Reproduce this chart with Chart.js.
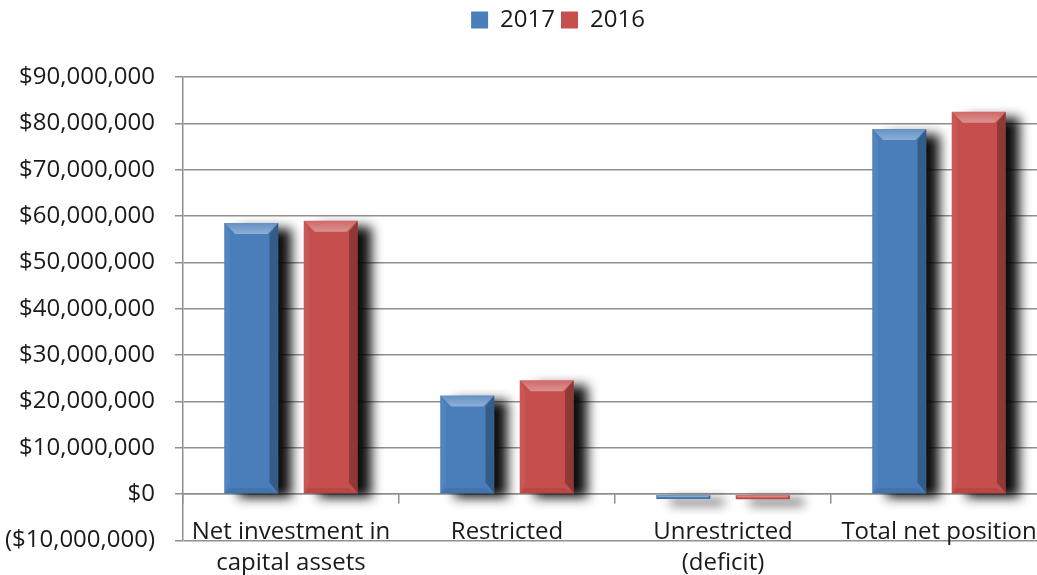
<!DOCTYPE html>
<html>
<head>
<meta charset="utf-8">
<script src="https://cdn.jsdelivr.net/npm/chart.js@4/dist/chart.umd.min.js"></script>
<style>
  html, body { margin: 0; padding: 0; background: #fff; overflow: hidden; }
  #wrap { width: 1050px; height: 575px; }
</style>
</head>
<body>
<div id="wrap"><canvas id="chartNetPosition"></canvas></div>
<script>
const categories = [
  ['Net investment in', 'capital assets'],
  'Restricted',
  ['Unrestricted', '(deficit)'],
  'Total net position'
];
const values2017 = [58500000, 21300000, -1000000, 78800000];
const values2016 = [59000000, 24600000, -1100000, 82500000];
const seriesLabels = ['2017', '2016'];

const formatMoney = value => {
  const s = '$' + Math.abs(value).toFixed(0).replace(/\B(?=(\d{3})+(?!\d))/g, ',');
  return value < 0 ? '(' + s + ')' : s;
};

// extra room under the legend, and legend moved a bit right
const legendGapPlugin = {
  id: 'legendGap',
  beforeInit(chart) {
    const fit = chart.legend.fit;
    chart.legend.fit = function () {
      fit.bind(chart.legend)();
      this.height += 35;
    };
  },
  afterLayout(chart) {
    chart.legend.left = 69;
  }
};

// drop shadow under the bars, bevel on top
const shadowPlugin = {
  id: 'barShadow',
  beforeDatasetsDraw(chart) {
    const ctx = chart.ctx;
    ctx.save();
    ctx.shadowColor = 'rgba(0,0,0,0.95)';
    ctx.shadowBlur = 11;
    ctx.shadowOffsetX = 14;
    ctx.shadowOffsetY = 5;
  },
  afterDatasetsDraw(chart) {
    chart.ctx.restore();
    drawBevels(chart);
  }
};

const drawBevels = chart => {
  const ctx = chart.ctx;
  chart.data.datasets.forEach((ds, i) => {
    const meta = chart.getDatasetMeta(i);
    meta.data.forEach(bar => {
      const { x, y, base, width } = bar.getProps(['x', 'y', 'base', 'width'], true);
      const l = x - width / 2, r = x + width / 2;
      const top = Math.min(y, base), bot = Math.max(y, base);
      const h = bot - top;
      const b = Math.min(11, h / 2, width / 4);
      ctx.save();
      const g = ctx.createLinearGradient(0, top, 0, top + b);
      g.addColorStop(0, 'rgba(255,255,255,0.15)');
      g.addColorStop(1, 'rgba(255,255,255,0.38)');
      ctx.fillStyle = g;
      ctx.beginPath();
      ctx.moveTo(l, top); ctx.lineTo(r, top); ctx.lineTo(r - b, top + b); ctx.lineTo(l + b, top + b);
      ctx.closePath(); ctx.fill();
      ctx.fillStyle = 'rgba(0,0,0,0.28)';
      ctx.beginPath();
      ctx.moveTo(r, top); ctx.lineTo(r, bot); ctx.lineTo(r - b * 0.8, bot - b); ctx.lineTo(r - b * 0.8, top + b);
      ctx.closePath(); ctx.fill();
      ctx.fillStyle = 'rgba(255,255,255,0.05)';
      ctx.beginPath();
      ctx.moveTo(l, top); ctx.lineTo(l + b * 0.5, top + b); ctx.lineTo(l + b * 0.5, bot - b); ctx.lineTo(l, bot);
      ctx.closePath(); ctx.fill();
      ctx.fillStyle = 'rgba(0,0,0,0.08)';
      ctx.beginPath();
      ctx.moveTo(l, bot); ctx.lineTo(l + b * 0.5, bot - b * 0.5); ctx.lineTo(r - b * 0.8, bot - b * 0.5); ctx.lineTo(r, bot);
      ctx.closePath(); ctx.fill();
      ctx.restore();
    });
  });
};

const textFont = { family: 'Open Sans', size: 24 };
const gridColor = '#8f8f8f';

const context = document.getElementById('chartNetPosition').getContext('2d');
const chart = new Chart(context, {
  type: 'bar',
  data: {
    labels: categories,
    datasets: [{
      label: seriesLabels[0],
      data: values2017,
      backgroundColor: '#4a7ebb',
      categoryPercentage: 0.736,
      barPercentage: 0.68
    }, {
      label: seriesLabels[1],
      data: values2016,
      backgroundColor: '#c64f4d',
      categoryPercentage: 0.736,
      barPercentage: 0.68
    }]
  },
  options: {
    responsive: true,
    maintainAspectRatio: false,
    animation: false,
    layout: { padding: { left: 4, right: 3, top: 2, bottom: 31 } },
    plugins: {
      tooltip: { enabled: false },
      legend: {
        position: 'top',
        labels: {
          font: textFont,
          color: '#1a1a1a',
          boxWidth: 17,
          boxHeight: 17,
          padding: 6
        }
      }
    },
    scales: {
      x: {
        position: { y: 0 },
        grid: {
          drawOnChartArea: false,
          tickLength: 9,
          color: gridColor,
          lineWidth: 1.5
        },
        border: { color: gridColor, width: 1.5 },
        ticks: {
          font: { family: 'Open Sans', size: 24, lineHeight: 1.3 },
          color: '#1a1a1a',
          maxRotation: 0,
          padding: 13
        }
      },
      y: {
        min: -10000000,
        max: 90000000,
        afterFit: scale => { scale.width = 179; },
        grid: {
          color: gridColor,
          lineWidth: 1.5,
          tickLength: 8
        },
        border: { color: gridColor, width: 1.5 },
        ticks: {
          stepSize: 10000000,
          font: textFont,
          color: '#1a1a1a',
          padding: 20,
          callback: value => formatMoney(value)
        }
      }
    }
  },
  plugins: [legendGapPlugin, shadowPlugin]
});
</script>
</body>
</html>
